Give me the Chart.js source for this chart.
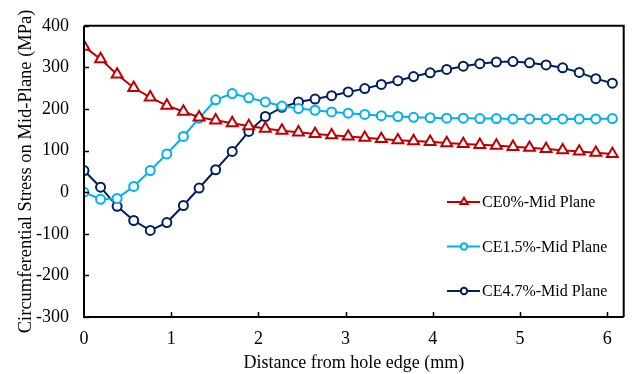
<!DOCTYPE html>
<html>
<head>
<meta charset="utf-8">
<script src="https://cdn.jsdelivr.net/npm/chart.js@4.4.1/dist/chart.umd.min.js"></script>
<style>
html,body{margin:0;padding:0;background:#fff;}
#wrap{width:632px;height:374px;}
</style>
</head>
<body>
<div id="wrap"><canvas id="c" width="632" height="374"></canvas></div>
<script>
const distances = [0, 0.19, 0.38, 0.57, 0.76, 0.95, 1.14, 1.32, 1.51, 1.70, 1.89, 2.08, 2.27, 2.46, 2.65, 2.84, 3.03, 3.22, 3.41, 3.60, 3.78, 3.97, 4.16, 4.35, 4.54, 4.73, 4.92, 5.11, 5.30, 5.49, 5.68, 5.87, 6.06];
const ce0 = [350, 320, 283, 251, 228, 208, 194, 180, 173, 166, 159, 153, 148, 144, 140, 137, 134, 131, 128, 125, 123, 121, 118, 116, 114, 112, 109, 107, 104, 101, 98, 95, 92];
const ce15 = [0, -17, -15, 14, 52, 92, 134, 178, 222, 237, 227, 217, 207, 201, 197, 193, 190, 187, 184, 182, 180, 179, 178, 178, 177, 177, 176, 176, 176, 176, 176, 176, 177];
const ce47 = [52, 12, -34, -68, -92, -73, -32, 10, 54, 98, 146, 182, 204, 217, 224, 232, 241, 249, 259, 268, 278, 287, 295, 303, 309, 313, 314, 311, 306, 299, 288, 273, 262];
const seriesNames = ['CE0%-Mid Plane', 'CE1.5%-Mid Plane', 'CE4.7%-Mid Plane'];
const xTicks = [0, 1, 2, 3, 4, 5, 6];
const yTicks = [-300, -200, -100, 0, 100, 200, 300, 400];

const FONT = "'Liberation Serif', 'Times New Roman', serif";
const pts = ys => distances.map((x, i) => ({x: x, y: ys[i]}));

function ds(label, data, color, style, radius) {
  return {
    label: label, data: pts(data), showLine: true,
    borderColor: color, backgroundColor: '#fff', borderWidth: 2,
    pointStyle: style, pointRadius: radius, pointBorderWidth: 2,
    pointBorderColor: color, pointBackgroundColor: '#fff', tension: 0
  };
}

const framePlugin = {
  id: 'frame',
  afterDraw(chart) {
    const ctx = chart.ctx, a = chart.chartArea;
    const xs = chart.scales.x, ys = chart.scales.y;
    ctx.save();
    ctx.strokeStyle = '#000';
    ctx.lineWidth = 2;
    ctx.beginPath();
    ctx.moveTo(a.left, a.top); ctx.lineTo(a.right, a.top); ctx.lineTo(a.right, a.bottom);
    ctx.moveTo(a.left, a.top); ctx.lineTo(a.left, a.bottom); ctx.lineTo(a.right, a.bottom);
    ctx.stroke();
    ctx.lineWidth = 1.5;
    ctx.beginPath();
    xTicks.forEach(v => { const p = Math.round(xs.getPixelForValue(v)) + 0.5; if (v !== 0) { ctx.moveTo(p, a.bottom); ctx.lineTo(p, a.bottom - 5); } });
    yTicks.forEach(v => { const p = Math.round(ys.getPixelForValue(v)) + 0.5; ctx.moveTo(a.left, p); ctx.lineTo(a.left + 5, p); });
    ctx.stroke();
    // legend
    const rows = [202, 246.5, 291];
    ctx.font = "16px " + FONT;
    ctx.textBaseline = 'middle';
    ctx.textAlign = 'left';
    chart.data.datasets.forEach((d, i) => {
      const y = rows[i];
      ctx.strokeStyle = d.borderColor; ctx.lineWidth = 2;
      ctx.beginPath(); ctx.moveTo(447, y); ctx.lineTo(480, y); ctx.stroke();
      ctx.fillStyle = '#fff';
      ctx.beginPath();
      if (d.pointStyle === 'triangle') {
        Chart.helpers.drawPoint(ctx, {pointStyle: 'triangle', radius: 4.2, rotation: 0, borderWidth: 2}, 464, y);
      } else {
        ctx.arc(464, y, 3.2, 0, Math.PI * 2);
        ctx.fill(); ctx.stroke();
      }
      ctx.fillStyle = '#000';
      ctx.fillText(seriesNames[i], 482, y + 1);
    });
    ctx.restore();
  }
};

new Chart(document.getElementById('c'), {
  type: 'scatter',
  data: {
    datasets: [
      ds(seriesNames[0], ce0, '#C00000', 'triangle', 6.3),
      ds(seriesNames[1], ce15, '#00B0F0', 'circle', 4.5),
      ds(seriesNames[2], ce47, '#002060', 'circle', 4.5)
    ]
  },
  options: {
    responsive: false,
    devicePixelRatio: 1,
    animation: false,
    layout: {padding: {left: 0, right: 5, top: 11, bottom: 0}},
    plugins: {legend: {display: false}, tooltip: {enabled: false}},
    scales: {
      x: {
        type: 'linear', min: 0, max: 6.19,
        grid: {display: false, drawTicks: false},
        border: {display: false},
        afterBuildTicks: s => { s.ticks = xTicks.map(v => ({value: v})); },
        afterFit: s => { s.height = 57; },
        ticks: {color: '#000', font: {family: FONT, size: 18}, padding: 11, maxRotation: 0},
        title: {display: true, text: 'Distance from hole edge (mm)', color: '#000', font: {family: FONT, size: 18}, padding: {top: 2, bottom: 0}}
      },
      y: {
        type: 'linear', min: -300, max: 400,
        grid: {display: false, drawTicks: false},
        border: {display: false},
        afterBuildTicks: s => { s.ticks = yTicks.map(v => ({value: v})); },
        afterFit: s => { s.width = 84; },
        ticks: {color: '#000', font: {family: FONT, size: 18}, padding: 15},
        title: {display: true, text: 'Circumferential Stress on Mid-Plane (MPa)', color: '#000', font: {family: FONT, size: 18.5}, padding: {top: 15, bottom: 0}}
      }
    }
  },
  plugins: [framePlugin]
});
</script>
</body>
</html>
